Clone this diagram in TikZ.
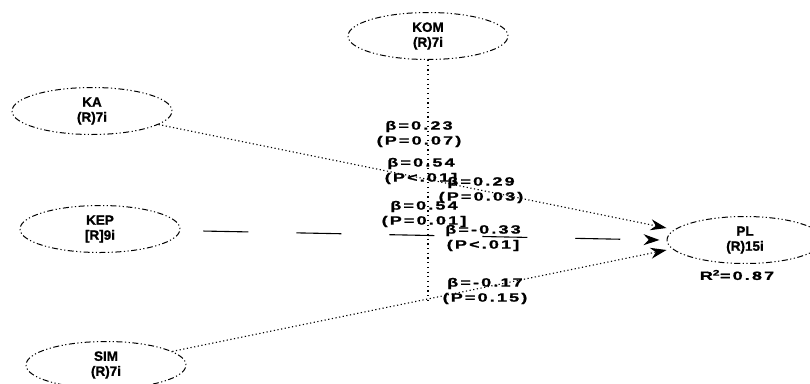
\documentclass[tikz,border=0pt]{standalone}
\usepackage{fontspec}
\setmainfont{Liberation Sans}
\newfontfamily\nodefont[FakeBold=1.2]{Liberation Sans Bold}
\newfontfamily\lblfont[FakeStretch=1.5,LetterSpace=18,FakeBold=1.3]{Liberation Sans Bold}
\usetikzlibrary{shapes.geometric,arrows.meta}
\begin{document}
\begin{tikzpicture}[x=1pt,y=-1pt,
  latent/.style={ellipse, draw=black, line width=1pt,
    dash pattern=on 1.2pt off 2.5pt on 1.2pt off 2.5pt on 6pt off 2.5pt,
    minimum width=160pt, minimum height=47pt, inner sep=0pt, align=center,
    font=\nodefont\fontsize{13.5}{15}\selectfont},
  linkdot/.style={draw=black, line width=1.1pt, dash pattern=on 1.2pt off 2.5pt,
    -{Stealth[length=16pt,width=11pt]}},
  linkdash/.style={draw=black, line width=1.1pt, dash pattern=on 45pt off 48pt,
    dash phase=70pt, -{Stealth[length=16pt,width=11pt]}},
  moddot/.style={draw=black, line width=1.1pt, dash pattern=on 1.2pt off 3.5pt},
  coef/.style={font=\lblfont\fontsize{12}{15}\selectfont, align=center, inner sep=0pt}
]
\useasboundingbox (0,0) rectangle (810,383);

% latent variables
\node[latent] (KOM) at (428,36) {KOM\\(R)7i};
\node[latent] (KA)  at (92,111) {KA\\(R)7i};
\node[latent] (KEP) at (100,229) {KEP\\{[R]}9i};
\node[latent] (SIM) at (106,365) {SIM\\(R)7i};
\node[latent, minimum width=156pt] (PL) at (745,240) {PL\\(R)15i};
\node[coef] (r2) at (737,275) {R\textsuperscript{2}=0.87};

% structural paths
\draw[linkdot]  (KA)  -- ([yshift=12pt]PL.west);
\draw[linkdash] (KEP) -- ([xshift=-7pt]PL.west);
\draw[linkdot]  (SIM) -- coordinate[pos=0.49] (kmod) ([yshift=-10pt]PL.west);

% moderating path of KOM
\draw[moddot] (KOM) -- (KOM |- kmod);

% path coefficients
\node[coef] (c1) at (419,134) {β=0.23\\(P=0.07)};
\node[coef] (c2) at (421,171) {β=0.54\\(P<.01]};
\node[coef] (c3) at (481,190) {β=0.29\\(P=0.03)};
\node[coef] (c4) at (424,214) {β=0.54\\(P=0.01]};
\node[coef] (c5) at (483,238) {β=-0.33\\(P<.01]};
\node[coef] (c6) at (485,291) {β=-0.17\\(P=0.15)};
\end{tikzpicture}
\end{document}
